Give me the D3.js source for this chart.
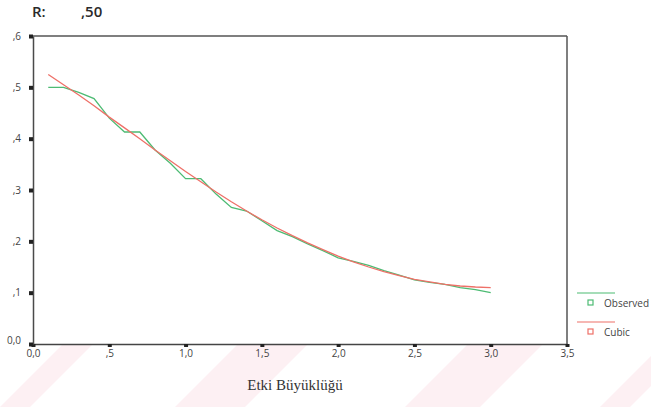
<!DOCTYPE html>
<html><head><meta charset="utf-8">
<script src="https://cdn.jsdelivr.net/npm/d3@7"></script>
<style>
body{margin:0;background:#fff;}
svg{display:block;}
</style></head>
<body>
<svg id="chart" width="651" height="407"></svg>
<script>
const xValues = [0.1,0.2,0.3,0.4,0.5,0.6,0.7,0.8,0.9,1.0,1.1,1.2,1.3,1.4,1.5,1.6,1.7,1.8,1.9,2.0,2.1,2.2,2.3,2.4,2.5,2.6,2.7,2.8,2.9,3.0];
const observed = [0.50,0.50,0.49,0.478,0.44,0.413,0.413,0.378,0.352,0.322,0.322,0.292,0.266,0.259,0.240,0.221,0.209,0.195,0.182,0.168,0.161,0.153,0.143,0.134,0.125,0.120,0.116,0.110,0.106,0.100];
const cubic = [0.525,0.505,0.485,0.464,0.442,0.421,0.400,0.378,0.357,0.336,0.316,0.296,0.277,0.259,0.242,0.226,0.211,0.197,0.184,0.171,0.160,0.150,0.141,0.133,0.126,0.121,0.116,0.113,0.111,0.110];
const xTicks = [0,0.5,1,1.5,2,2.5,3,3.5];
const xTickLabels = ["0,0",",5","1,0","1,5","2,0","2,5","3,0","3,5"];
const yTicks = [0,0.1,0.2,0.3,0.4,0.5,0.6];
const yTickLabels = ["0,0",",1",",2",",3",",4",",5",",6"];
const seriesNames = ["Observed","Cubic"];
const seriesColors = ["#4dbb73","#ee7068"];
const titleLabel = "R:";
const titleValue = ",50";
const xAxisTitle = "Etki Büyüklüğü";

const svg = d3.select("#chart");

// faint watermark bands
const wm = svg.append("g").attr("fill","#fdf0f3");
[[0,345,60],[175,345,140],[405,345,150],[600,345,60]].forEach(([x0,y0,w])=>{
  wm.append("path").attr("d",`M${x0},407 L${x0+62},${y0} L${x0+62+w*0.5},${y0} L${x0+w*0.5},407 Z`);
});

const x = d3.scaleLinear().domain([0,3.5]).range([33,567]);
const y = d3.scaleLinear().domain([0,0.6]).range([344,36]);

// frame top and right
svg.append("line").attr("x1",x(0)).attr("x2",x(3.5)).attr("y1",y(0.6)).attr("y2",y(0.6))
  .attr("stroke","#555").attr("stroke-width",1.5);
svg.append("line").attr("x1",x(3.5)).attr("x2",x(3.5)).attr("y1",y(0.6)).attr("y2",y(0))
  .attr("stroke","#555").attr("stroke-width",1.5);

const xAxis = svg.append("g").attr("transform",`translate(0,${y(0)})`)
  .call(d3.axisBottom(x).tickValues(xTicks).tickFormat((d,i)=>xTickLabels[i]).tickSizeInner(3).tickSizeOuter(0).tickPadding(3));
xAxis.select(".domain").attr("stroke","#444").attr("stroke-width",1.5);
xAxis.selectAll(".tick line").attr("stroke","#222").attr("stroke-width",4);
xAxis.selectAll("text").attr("font-family","'Open Sans', sans-serif").attr("font-size",10).attr("fill","#444");

const yAxis = svg.append("g").attr("transform",`translate(${x(0)},0)`)
  .call(d3.axisLeft(y).tickValues(yTicks).tickFormat((d,i)=>yTickLabels[i]).tickSizeInner(4).tickSizeOuter(0).tickPadding(8));
yAxis.select(".domain").attr("stroke","#4a4a4a").attr("stroke-width",1.5);
yAxis.selectAll(".tick line").attr("stroke","#222").attr("stroke-width",4);
yAxis.selectAll("text").attr("font-family","'Open Sans', sans-serif").attr("font-size",10).attr("fill","#444");
yAxis.selectAll(".tick").filter(d=>d===0).select("text").attr("dy","-0.1em");

const line = d3.line().x(d=>x(d[0])).y(d=>y(d[1]));
const series = [observed, cubic];
series.forEach((vals,i)=>{
  svg.append("path").datum(xValues.map((v,j)=>[v,vals[j]]))
    .attr("d",line).attr("fill","none").attr("stroke",seriesColors[i]).attr("stroke-width",1.3);
});

// title
svg.append("text").attr("x",32).attr("y",17).text(titleLabel)
  .attr("font-family","'Open Sans', sans-serif").attr("font-weight",600).attr("font-size",15).attr("fill","#2a2a2a");
svg.append("text").attr("x",81).attr("y",17).text(titleValue)
  .attr("font-family","'Open Sans', sans-serif").attr("font-weight",600).attr("font-size",15).attr("fill","#2a2a2a");

// x axis title
svg.append("text").attr("x",295).attr("y",390).attr("text-anchor","middle").text(xAxisTitle)
  .attr("font-family","'Liberation Serif', serif").attr("font-size",15).attr("fill","#333");

// legend
const lg = svg.append("g");
seriesNames.forEach((n,i)=>{
  const yy = 293 + i*29;
  lg.append("line").attr("x1",577).attr("x2",615).attr("y1",yy).attr("y2",yy).attr("stroke",seriesColors[i]).attr("stroke-width",1.2);
  lg.append("rect").attr("x",588).attr("y",yy+7).attr("width",5).attr("height",5).attr("fill","none").attr("stroke",seriesColors[i]).attr("stroke-width",1.2);
  lg.append("text").attr("x",604).attr("y",yy+14).text(n)
    .attr("font-family","'Open Sans', sans-serif").attr("font-size",10).attr("fill","#444");
});
</script>
</body></html>
